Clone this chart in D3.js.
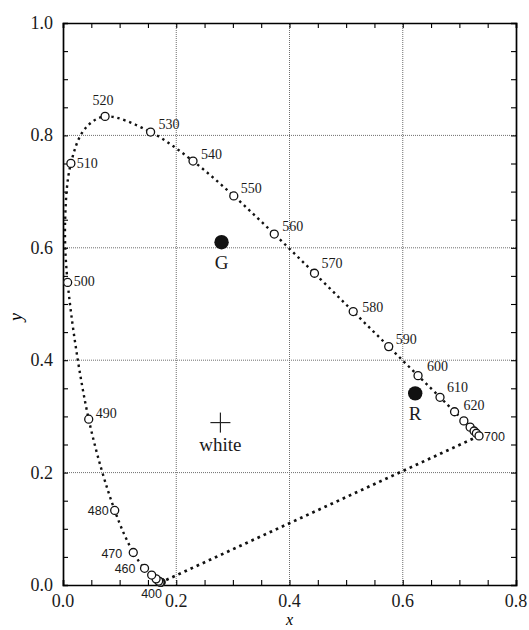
<!DOCTYPE html>
<html>
<head>
<meta charset="utf-8">
<script src="https://cdn.jsdelivr.net/npm/d3@7"></script>
<style>
  html, body { margin: 0; padding: 0; background: #fff; }
  svg { display: block; }
</style>
</head>
<body>
<script>
// Spectral locus of the CIE 1931 chromaticity diagram (wavelength in nm, x, y)
const wavelengths = [400, 410, 420, 430, 440, 450, 460, 470, 480, 490, 500, 505, 510, 515, 520,
                     530, 540, 550, 560, 570, 580, 590, 600, 610, 620, 630, 640, 650, 660, 700];
const locusX = [0.1733, 0.1726, 0.1714, 0.1689, 0.1644, 0.1566, 0.1440, 0.1241, 0.0913, 0.0454, 0.0082, 0.0039, 0.0139, 0.0389, 0.0743,
                0.1547, 0.2296, 0.3016, 0.3731, 0.4441, 0.5125, 0.5752, 0.6270, 0.6658, 0.6915, 0.7079, 0.7190, 0.7260, 0.7300, 0.7347];
const locusY = [0.0048, 0.0048, 0.0051, 0.0069, 0.0109, 0.0177, 0.0297, 0.0578, 0.1327, 0.2950, 0.5384, 0.6548, 0.7502, 0.8120, 0.8338,
                0.8059, 0.7543, 0.6923, 0.6245, 0.5547, 0.4866, 0.4242, 0.3725, 0.3340, 0.3083, 0.2920, 0.2809, 0.2740, 0.2700, 0.2653];
// wavelengths marked with an open circle
const markedWavelengths = [400, 410, 420, 430, 440, 450, 460, 470, 480, 490, 500, 510, 520, 530, 540,
                           550, 560, 570, 580, 590, 600, 610, 620, 630, 640, 650, 660, 700];
// wavelengths that carry a text label
const labelledWavelengths = [400, 460, 470, 480, 490, 500, 510, 520, 530, 540, 550, 560, 570, 580, 590, 600, 610, 620, 700];

// primaries and white point
const primaryNames = ["G", "R"];
const primaryX = [0.28, 0.622];
const primaryY = [0.61, 0.341];
const whiteName = "white";
const whiteX = 0.278;
const whiteY = 0.289;

// axes
const xTicks = [0.0, 0.2, 0.4, 0.6, 0.8];
const yTicks = [0.0, 0.2, 0.4, 0.6, 0.8, 1.0];
const xTitle = "x";
const yTitle = "y";

const W = 529, H = 630;
const x = d3.scaleLinear().domain([0, 0.8]).range([63, 516]);
const y = d3.scaleLinear().domain([0, 1.0]).range([585, 23]);

const serif = "'Liberation Serif', 'Times New Roman', serif";
const sans = "'Liberation Sans', Arial, sans-serif";

const svg = d3.select("body").append("svg")
  .attr("width", W).attr("height", H);

// dotted grid every 0.2
const grid = svg.append("g");
grid.selectAll("line.gx").data(xTicks.slice(1, -1)).join("line")
  .attr("x1", d => x(d)).attr("x2", d => x(d))
  .attr("y1", y(0)).attr("y2", y(1))
  .attr("stroke", "#6e6e6e").attr("stroke-width", 1).attr("stroke-dasharray", "1,1");
grid.selectAll("line.gy").data(yTicks.slice(1, -1)).join("line")
  .attr("x1", x(0)).attr("x2", x(0.8))
  .attr("y1", d => y(d)).attr("y2", d => y(d))
  .attr("stroke", "#6e6e6e").attr("stroke-width", 1).attr("stroke-dasharray", "1,1");

// frame with inward ticks every 0.05
const tickLen = 5;
const axisG = svg.append("g");
const minorX = d3.range(0, 0.8001, 0.05);
const minorY = d3.range(0, 1.0001, 0.05);

axisG.append("g").attr("transform", `translate(0,${y(0)})`)
  .call(d3.axisBottom(x).tickValues(minorX).tickSize(-tickLen).tickFormat(""));
axisG.append("g").attr("transform", `translate(0,${y(1)})`)
  .call(d3.axisTop(x).tickValues(minorX).tickSize(-tickLen).tickFormat(""));
axisG.append("g").attr("transform", `translate(${x(0)},0)`)
  .call(d3.axisLeft(y).tickValues(minorY).tickSize(-tickLen).tickFormat(""));
axisG.append("g").attr("transform", `translate(${x(0.8)},0)`)
  .call(d3.axisRight(y).tickValues(minorY).tickSize(-tickLen).tickFormat(""));
axisG.selectAll(".domain").attr("stroke", "#000").attr("stroke-width", 1.7);
axisG.selectAll(".tick line").attr("stroke", "#000").attr("stroke-width", 1.1);

// tick labels
svg.append("g").selectAll("text").data(xTicks).join("text")
  .attr("x", d => x(d)).attr("y", 607)
  .attr("text-anchor", "middle")
  .attr("font-family", serif).attr("font-size", 18).attr("fill", "#1a1a1a")
  .text(d => d.toFixed(1));
svg.append("g").selectAll("text").data(yTicks).join("text")
  .attr("x", 53).attr("y", d => y(d) + 6)
  .attr("text-anchor", "end")
  .attr("font-family", serif).attr("font-size", 18).attr("fill", "#1a1a1a")
  .text(d => d.toFixed(1));

// axis titles
svg.append("text")
  .attr("x", x(0.4)).attr("y", 625)
  .attr("text-anchor", "middle")
  .attr("font-family", serif).attr("font-style", "italic").attr("font-size", 16)
  .text(xTitle);
svg.append("text")
  .attr("transform", `translate(22,317) rotate(-90)`)
  .attr("text-anchor", "middle")
  .attr("font-family", serif).attr("font-style", "italic").attr("font-size", 18)
  .text(yTitle);

// locus points
const locus = wavelengths.map((w, i) => ({ w, x: locusX[i], y: locusY[i] }));
const byW = new Map(locus.map(d => [d.w, d]));

// line of purples: straight dotted line joining the two ends
const first = locus[0], last = locus[locus.length - 1];
svg.append("line")
  .attr("x1", x(last.x)).attr("y1", y(last.y))
  .attr("x2", x(first.x)).attr("y2", y(first.y))
  .attr("stroke", "#111").attr("stroke-width", 2.7)
  .attr("stroke-dasharray", "2.7,4");

// spectral locus curve
const lineGen = d3.line()
  .x(d => x(d.x)).y(d => y(d.y))
  .curve(d3.curveCatmullRom.alpha(0.5));
svg.append("path")
  .datum(locus)
  .attr("d", lineGen)
  .attr("fill", "none")
  .attr("stroke", "#111").attr("stroke-width", 2.4)
  .attr("stroke-dasharray", "2.4,3.8");

// open circles at marked wavelengths
svg.append("g").selectAll("circle")
  .data(markedWavelengths.map(w => byW.get(w)))
  .join("circle")
  .attr("cx", d => x(d.x)).attr("cy", d => y(d.y))
  .attr("r", 4)
  .attr("fill", "#fff").attr("stroke", "#111").attr("stroke-width", 1.3);

// wavelength labels: offset, anchor, face
const labelStyle = {
  400: [-20, 16, "start", sans],
  460: [-9, 5, "end", sans],
  470: [-11, 5, "end", sans],
  480: [-6, 5, "end", sans],
  490: [7, -1, "start", serif],
  500: [6, 4, "start", serif],
  510: [6, 5, "start", serif],
  520: [-2, -11, "middle", serif],
  530: [8, -3, "start", serif],
  540: [8, -2, "start", serif],
  550: [7, -3, "start", serif],
  560: [8, -3, "start", serif],
  570: [7, -5, "start", serif],
  580: [9, 0, "start", serif],
  590: [7, -3, "start", serif],
  600: [9, -5, "start", serif],
  610: [7, -5, "start", serif],
  620: [9, -2, "start", serif],
  700: [5, 5, "start", sans]
};
svg.append("g").selectAll("text")
  .data(labelledWavelengths.map(w => byW.get(w)))
  .join("text")
  .attr("x", d => x(d.x) + labelStyle[d.w][0])
  .attr("y", d => y(d.y) + labelStyle[d.w][1])
  .attr("text-anchor", d => labelStyle[d.w][2])
  .attr("font-family", d => labelStyle[d.w][3])
  .attr("font-size", d => labelStyle[d.w][3] === sans ? 12.5 : 14)
  .attr("fill", "#1a1a1a")
  .text(d => d.w);

// primaries
const prim = primaryNames.map((n, i) => ({ n, x: primaryX[i], y: primaryY[i] }));
svg.append("g").selectAll("circle").data(prim).join("circle")
  .attr("cx", d => x(d.x)).attr("cy", d => y(d.y))
  .attr("r", 7.2).attr("fill", "#111");
svg.append("g").selectAll("text").data(prim).join("text")
  .attr("x", d => x(d.x)).attr("y", d => y(d.y) + 27)
  .attr("text-anchor", "middle")
  .attr("font-family", serif).attr("font-size", 19).attr("fill", "#1a1a1a")
  .text(d => d.n);

// white point
const wx = x(whiteX), wy = y(whiteY);
svg.append("line").attr("x1", wx - 10).attr("x2", wx + 10).attr("y1", wy).attr("y2", wy)
  .attr("stroke", "#222").attr("stroke-width", 1.2);
svg.append("line").attr("x1", wx).attr("x2", wx).attr("y1", wy - 10).attr("y2", wy + 10)
  .attr("stroke", "#222").attr("stroke-width", 1.2);
svg.append("text")
  .attr("x", wx).attr("y", wy + 28)
  .attr("text-anchor", "middle")
  .attr("font-family", serif).attr("font-size", 19).attr("fill", "#1a1a1a")
  .text(whiteName);
</script>
</body>
</html>
